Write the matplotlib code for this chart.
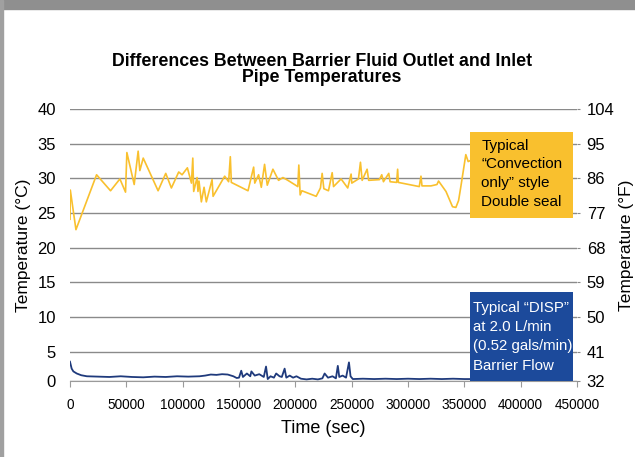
import matplotlib
matplotlib.use("Agg")
import matplotlib.pyplot as plt
from matplotlib.patches import Rectangle

# values
conv_t = [0, 300, 5300, 23600, 36000, 44300, 49300, 50500, 57000, 60500, 62000, 65000,
          78200, 85000, 90000, 96500, 99500, 104200, 107800, 109000, 109800, 112800,
          113600, 114500, 116600, 119000, 121000, 126100, 127000, 137300, 140800, 142300,
          143200, 158000, 163000, 164000, 167400, 169800, 172700, 175100, 180100, 185100,
          189000, 193400, 202200, 203100, 204300, 205800, 218500, 222300, 223800, 225300,
          229400, 232700, 233900, 240600, 246500, 249500, 250100, 256000, 257800, 259300,
          263700, 265100, 274600, 276700, 278200, 282900, 284100, 289900, 290800, 291400,
          310000, 311500, 312400, 320400, 325700, 327100, 333700, 339500, 342500, 344900,
          346900, 351300, 353400, 356000, 362000]
conv_temp = [24.1, 28.3, 22.6, 30.5, 28.2, 29.9, 28.0, 33.7, 29.1, 33.9, 31.1, 32.9,
             28.2, 30.7, 28.6, 30.9, 30.5, 31.5, 29.3, 32.9, 28.1, 30.1,
             28.1, 29.6, 26.6, 28.7, 26.6, 29.8, 27.4, 30.3, 29.5, 33.1,
             29.4, 28.2, 31.6, 29.3, 30.5, 28.7, 32.0, 29.0, 31.3, 29.7,
             30.1, 29.7, 28.8, 31.9, 27.6, 28.2, 27.4, 28.6, 30.7, 28.5,
             28.2, 30.8, 28.8, 29.9, 28.6, 30.6, 29.3, 29.9, 32.3, 29.7,
             31.3, 29.7, 29.8, 30.5, 29.5, 30.7, 29.5, 29.4, 31.3, 29.4,
             28.8, 30.3, 28.9, 28.9, 29.1, 29.6, 28.1, 25.9, 25.8, 26.8,
             28.8, 33.4, 32.4, 32.6, 32.0]

disp_t = [0, 1500, 3000, 6000, 10000, 15000, 25000, 35000, 45000, 55000, 65000, 75000,
          85000, 95000, 105000, 115000, 120000, 125000, 130000, 135000, 140000, 145000,
          148000, 150000, 152000, 153500, 157000, 160000, 161000, 164000, 168000, 172000,
          174000, 175500, 178000, 181000, 183000, 186000, 188000, 190500, 192000, 195000,
          198000, 201000, 205000, 210000, 215000, 220000, 224000, 226000, 229000, 233000,
          236000, 237700, 239000, 242000, 245000, 247600, 249000, 251000, 260000, 270000,
          280000, 290000, 300000, 310000, 320000, 330000, 340000, 350000, 360000]
disp_temp = [3.6, 2.6, 2.2, 1.9, 1.65, 1.5, 1.45, 1.4, 1.5, 1.4, 1.35, 1.45,
             1.4, 1.5, 1.45, 1.5, 1.6, 1.75, 1.7, 1.8, 1.75, 1.5,
             1.25, 1.3, 2.3, 1.4, 1.9, 1.5, 2.2, 1.6, 1.8, 1.4,
             2.9, 1.1, 1.5, 1.3, 1.9, 1.5, 1.4, 2.6, 1.3, 1.6,
             1.3, 1.5, 1.15, 1.05, 1.15, 1.05, 1.2, 1.9, 1.3, 1.5,
             1.2, 3.0, 1.4, 1.6, 1.3, 3.5, 1.5, 1.1, 1.15, 1.1,
             1.15, 1.1, 1.15, 1.1, 1.15, 1.1, 1.15, 1.1, 1.1]

c_ticks = [40, 35, 30, 25, 20, 15, 10, 5, 0]
f_labels = ["104", "95", "86", "77", "68", "59", "50", "41", "32"]
x_ticks = [0, 50000, 100000, 150000, 200000, 250000, 300000, 350000, 400000, 450000]

conv_note = ["Typical", "“Convection", "only” style", "Double seal"]
disp_note = ["Typical “DISP”", "at 2.0 L/min", "(0.52 gals/min)", "Barrier Flow"]

y_bottom = 0.8
yellow = "#F9C02E"
navy = "#1F3A7C"
box_blue = "#1C4A9B"
grid_gray = "#8a8a8a"

plt.rcParams["font.family"] = ["Liberation Sans", "DejaVu Sans"]

fig = plt.figure(figsize=(6.35, 4.57), dpi=100)
fig.patches.append(Rectangle((0, 0.981), 1, 0.019, transform=fig.transFigure,
                             color="#8f8f8f", zorder=0))
fig.patches.append(Rectangle((0, 0), 0.005, 1, transform=fig.transFigure,
                             color="#a0a0a0", zorder=0))

ax = fig.add_axes([0.1102, 0.166, 0.7985, 0.596])
ax.plot(conv_t, conv_temp, color=yellow, lw=1.2, zorder=3)
ax.plot(disp_t, disp_temp, color=navy, lw=1.3, zorder=3)

ax.set_xlim(0, 450000)
ax.set_ylim(y_bottom, 40)
pos = [t if t > 0 else y_bottom for t in c_ticks]
ax.set_yticks(pos)
ax.set_yticklabels([str(t) for t in c_ticks])
ax.set_xticks(x_ticks)
ax.set_xticklabels([str(t) for t in x_ticks])
ax.grid(axis="y", color=grid_gray, lw=1.0)
ax.set_axisbelow(True)
for s in ["top", "right", "left"]:
    ax.spines[s].set_visible(False)
ax.spines["bottom"].set_color("#9a9a9a")
ax.tick_params(axis="y", length=0, pad=10, labelsize=12)
ax.tick_params(axis="x", length=4, color="#9a9a9a", pad=8, labelsize=9.8)
ax.set_xlabel("Time (sec)", fontsize=13, labelpad=6)
ax.set_ylabel("Temperature (°C)", fontsize=12.5, labelpad=5)

ax2 = ax.twinx()
ax2.set_ylim(ax.get_ylim())
ax2.set_yticks(pos)
ax2.set_yticklabels(f_labels)
for s in ["top", "right", "left", "bottom"]:
    ax2.spines[s].set_visible(False)
ax2.tick_params(axis="y", length=2, color=grid_gray, pad=5, labelsize=12)
ax2.set_ylabel("Temperature (°F)", fontsize=12.5, labelpad=3)

fig.text(0.507, 0.848, "Differences Between Barrier Fluid Outlet and Inlet\nPipe Temperatures",
         ha="center", va="center", fontsize=12.8, fontweight="bold", linespacing=0.95)

# note boxes (x in data units, y in °C)
ax.add_patch(Rectangle((355200, 24.3), 91200, 12.4, fc=yellow, ec="none", zorder=5,
                       clip_on=False))
ax.add_patch(Rectangle((355200, y_bottom), 91200, 12.8, fc=box_blue, ec="none", zorder=5,
                       clip_on=False))
for i, line in enumerate(conv_note):
    ax.text(365000, 34.7 - i * 2.7, line, ha="left", va="center", fontsize=11,
            color="black", zorder=6)
for i, line in enumerate(disp_note):
    ax.text(358000, 11.3 - i * 2.75, line, ha="left", va="center", fontsize=10.8,
            color="white", zorder=6)

fig.savefig("out.png", dpi=100)
